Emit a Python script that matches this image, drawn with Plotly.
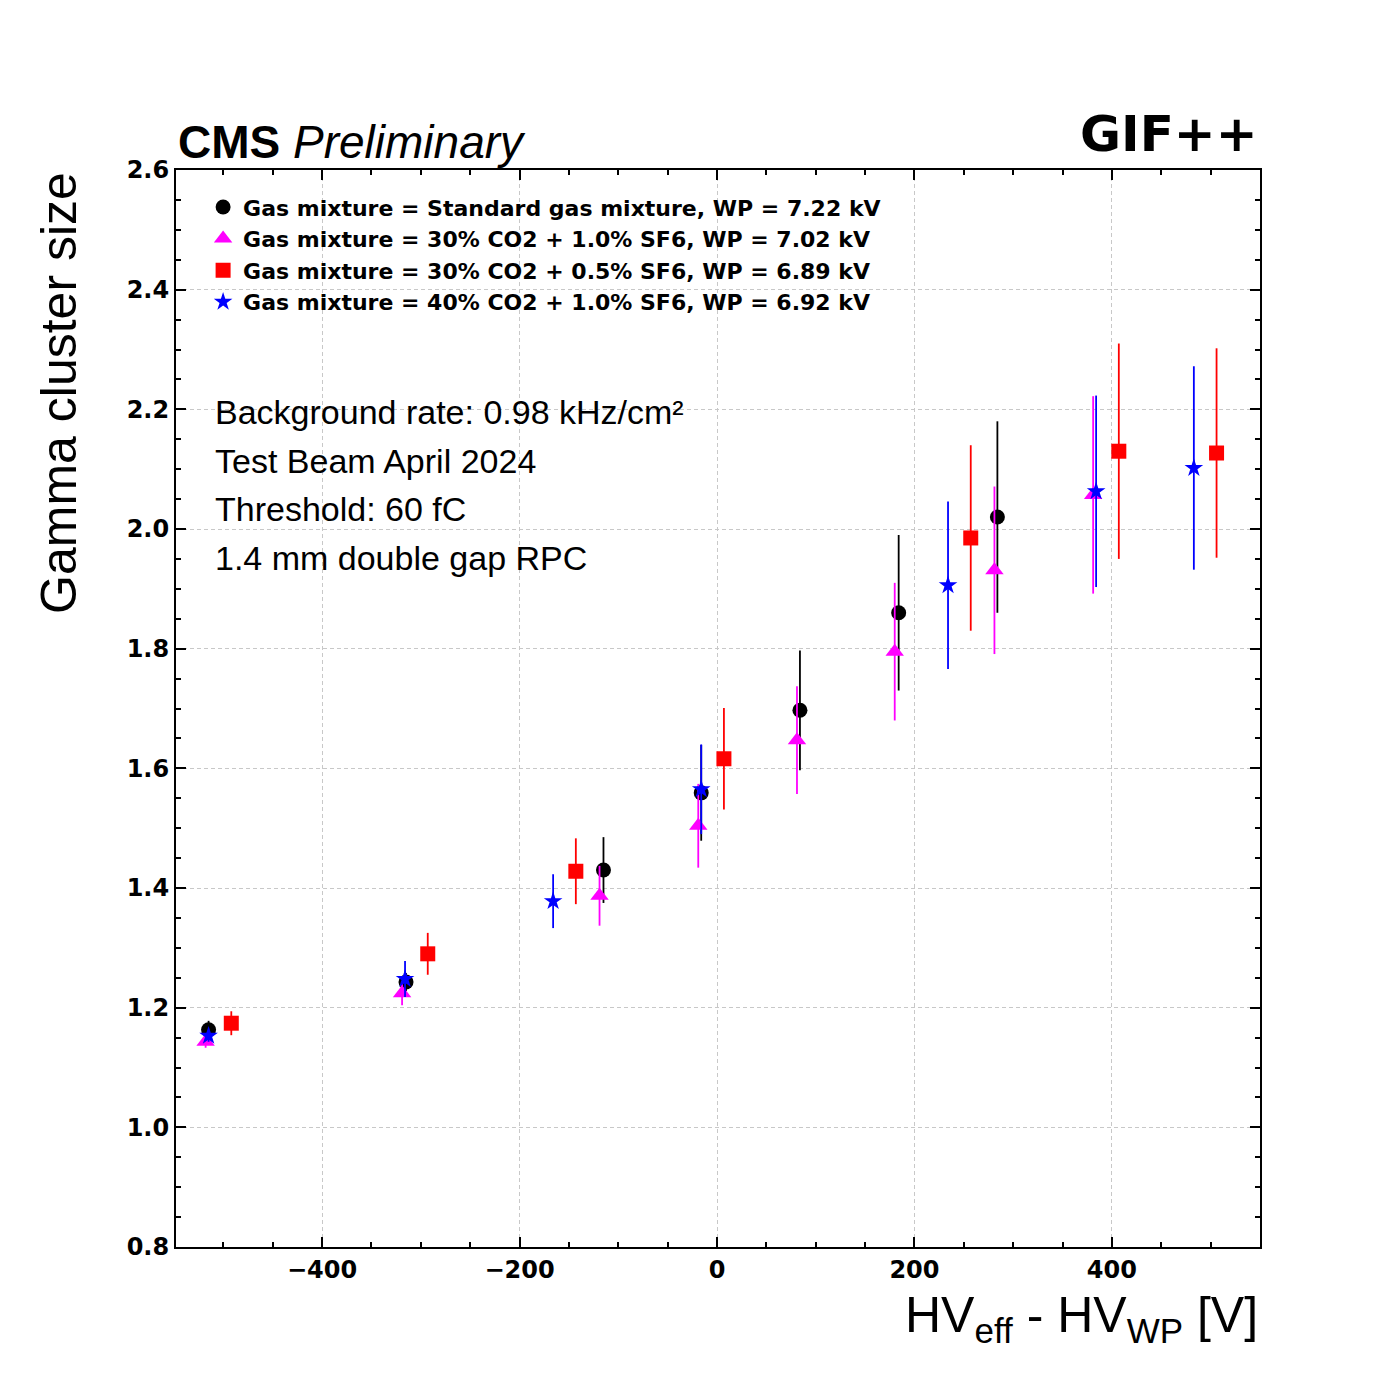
import plotly.graph_objects as go

# data
x_std = [-515, -315, -115, -16, 84, 184, 284]
y_std = [1.163, 1.243, 1.430, 1.559, 1.697, 1.860, 2.020]
e_std = [0.015, 0.015, 0.055, 0.080, 0.100, 0.130, 0.160]

x_30_10 = [-518, -319, -119, -19, 81, 180, 281, 381]
y_30_10 = [1.143, 1.224, 1.387, 1.504, 1.647, 1.795, 1.931, 2.057]
e_30_10 = [0.010, 0.020, 0.050, 0.070, 0.090, 0.115, 0.140, 0.165]

x_30_05 = [-492, -293, -143, 7, 257, 407, 506]
y_30_05 = [1.174, 1.290, 1.428, 1.616, 1.985, 2.130, 2.127]
e_30_05 = [0.020, 0.035, 0.055, 0.085, 0.155, 0.180, 0.175]

x_40_10 = [-515, -316, -166, -16, 234, 384, 483]
y_40_10 = [1.153, 1.248, 1.378, 1.565, 1.906, 2.063, 2.102]
e_40_10 = [0.010, 0.030, 0.045, 0.075, 0.140, 0.160, 0.170]

info_lines = ["Background rate: 0.98 kHz/cm²", "Test Beam April 2024",
              "Threshold: 60 fC", "1.4 mm double gap RPC"]

series = [
    (x_std, y_std, e_std, "black", "circle", 15, "Gas mixture = Standard gas mixture, WP = 7.22 kV"),
    (x_30_10, y_30_10, e_30_10, "magenta", "triangle-up", 16, "Gas mixture = 30% CO2 + 1.0% SF6, WP = 7.02 kV"),
    (x_30_05, y_30_05, e_30_05, "red", "square", 15, "Gas mixture = 30% CO2 + 0.5% SF6, WP = 6.89 kV"),
    (x_40_10, y_40_10, e_40_10, "blue", "star", 14, "Gas mixture = 40% CO2 + 1.0% SF6, WP = 6.92 kV"),
]

fig = go.Figure()
for x, y, e, col, sym, sz, name in series:
    fig.add_trace(go.Scatter(
        x=x, y=y, mode="markers", name=name,
        marker=dict(color=col, symbol=sym, size=sz, line=dict(width=0)),
        error_y=dict(type="data", array=e, color=col, thickness=1.8, width=0),
    ))

axis_common = dict(showline=True, linecolor="black", linewidth=2, mirror="allticks",
                   ticks="inside", ticklen=10, tickwidth=1.5, tickcolor="black",
                   showgrid=True, gridcolor="#c8c8c8", griddash="4px,3px", gridwidth=1,
                   zeroline=False,
                   tickfont=dict(family="DejaVu Sans", size=24, color="black", weight="bold"),
                   minor=dict(ticks="inside", ticklen=5, tickcolor="black", showgrid=False))

fig.update_xaxes(range=[-548, 550], dtick=200, minor_dtick=50, **axis_common)
fig.update_yaxes(range=[0.8, 2.6], dtick=0.2, tickformat=".1f", minor_dtick=0.05, **axis_common)

annotations = [
    dict(text="<b>CMS</b> <i>Preliminary</i>", x=0, y=1.0, xref="paper", yref="paper",
         xanchor="left", yanchor="bottom", showarrow=False, font=dict(size=46, family="Liberation Sans")),
    dict(text="<b>GIF++</b>", x=1, y=1.005, xref="paper", yref="paper",
         xanchor="right", yanchor="bottom", showarrow=False, font=dict(size=50, family="DejaVu Sans")),
    dict(text="HV<sub>eff</sub> - HV<sub>WP</sub> [V]", x=1, y=-0.035, xref="paper", yref="paper",
         xanchor="right", yanchor="top", showarrow=False, font=dict(size=50)),
    dict(text="Gamma cluster size", x=-0.108, y=1, xref="paper", yref="paper", textangle=-90,
         xanchor="center", yanchor="top", showarrow=False, font=dict(size=50)),
]
for i, line in enumerate(info_lines):
    annotations.append(dict(text=line, x=0.034, y=0.775 - i * 0.045, xref="paper", yref="paper",
                            xanchor="left", yanchor="middle", showarrow=False,
                            font=dict(size=34, family="Liberation Sans")))

fig.update_layout(
    width=1400, height=1400, plot_bgcolor="white", paper_bgcolor="white",
    margin=dict(l=168, r=148, t=162, b=161),
    font=dict(family="Liberation Sans", color="black"),
    legend=dict(x=0.025, y=0.985, xanchor="left", yanchor="top", bgcolor="rgba(0,0,0,0)",
                font=dict(family="DejaVu Sans", size=22, weight="bold"), tracegroupgap=10),
    annotations=annotations,
)

fig.write_html("out.html")
